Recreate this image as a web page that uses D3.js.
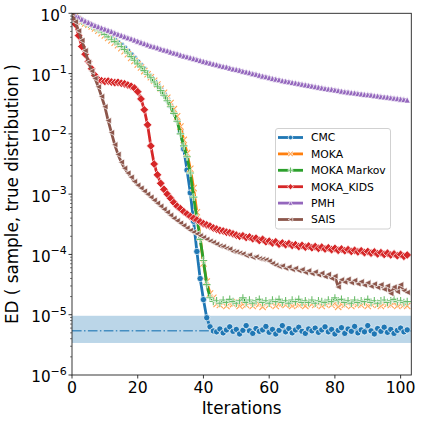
<!DOCTYPE html>
<html><head><meta charset="utf-8">
<script src="https://cdn.jsdelivr.net/npm/d3@7"></script>
<style>body{margin:0;background:#fff}svg{display:block}text{font-family:"DejaVu Sans",sans-serif;fill:#000}</style>
</head><body><svg id="c" width="423" height="423"></svg>
<script>
const iterations = d3.range(0, 103);
const seriesNames = ["CMC", "MOKA", "MOKA Markov", "MOKA_KIDS", "PMH", "SAIS"];
const cmc = [1.0,0.912,0.832,0.759,0.708,0.676,0.631,0.589,0.550,0.513,
0.468,0.427,0.389,0.355,0.324,0.295,0.263,0.234,0.204,0.178,
0.155,0.135,0.117,0.102,0.0891,0.0759,0.0646,0.0550,0.0457,0.0372,
0.0295,0.0229,0.0170,0.0112,0.00562,0.00251,0.00105,3.55e-4,1.12e-4,3.98e-5,
1.78e-5,8.91e-6,6.31e-6,5.37e-6,5.2e-6,5.8e-6,5.0e-6,5.6e-6,6.3e-6,5.3e-6,
5.7e-6,4.8e-6,5.5e-6,6.6e-6,5.4e-6,4.9e-6,5.9e-6,5.3e-6,5.6e-6,6.4e-6,
5.1e-6,5.7e-6,4.8e-6,5.5e-6,6.6e-6,5.2e-6,5.9e-6,5.0e-6,5.6e-6,6.2e-6,
5.3e-6,4.9e-6,5.8e-6,5.4e-6,6.0e-6,5.1e-6,5.6e-6,6.3e-6,5.2e-6,5.7e-6,
4.8e-6,5.5e-6,6.1e-6,4.9e-6,5.8e-6,5.3e-6,6.4e-6,5.0e-6,5.6e-6,5.2e-6,
6.6e-6,5.4e-6,4.8e-6,5.9e-6,5.3e-6,6.2e-6,5.1e-6,5.7e-6,4.9e-6,5.5e-6,
6.0e-6,5.2e-6,5.6e-6];
const moka = [1.0,0.891,0.794,0.724,0.676,0.646,0.603,0.562,0.513,0.468,
0.427,0.389,0.355,0.324,0.295,0.263,0.234,0.209,0.182,0.162,
0.141,0.126,0.110,0.0977,0.0871,0.0759,0.0661,0.0562,0.0479,0.0398,
0.0324,0.0257,0.0195,0.0132,0.00794,0.00479,0.00263,0.00126,5.01e-4,1.91e-4,
7.08e-5,3.55e-5,2.24e-5,1.91e-5,1.51e-5,1.45e-5,1.6e-5,1.4e-5,1.55e-5,1.5e-5,
1.65e-5,1.4e-5,1.5e-5,1.45e-5,1.6e-5,1.4e-5,1.55e-5,1.5e-5,1.35e-5,1.55e-5,
1.45e-5,1.6e-5,1.4e-5,1.5e-5,1.55e-5,1.45e-5,1.6e-5,1.4e-5,1.5e-5,1.45e-5,
1.55e-5,1.4e-5,1.6e-5,1.5e-5,1.45e-5,1.55e-5,1.4e-5,1.5e-5,1.6e-5,1.45e-5,
1.55e-5,1.35e-5,1.5e-5,1.45e-5,1.6e-5,1.4e-5,1.55e-5,1.5e-5,1.45e-5,1.6e-5,
1.4e-5,1.5e-5,1.55e-5,1.45e-5,1.4e-5,1.55e-5,1.5e-5,1.45e-5,1.6e-5,1.4e-5,
1.5e-5,1.45e-5,1.4e-5];
const mokaMarkov = [1.0,0.891,0.813,0.741,0.692,0.661,0.617,0.575,0.537,0.490,
0.447,0.407,0.372,0.339,0.309,0.282,0.251,0.219,0.191,0.166,
0.145,0.129,0.112,0.0977,0.0851,0.0724,0.0617,0.0525,0.0437,0.0355,
0.0282,0.0219,0.0162,0.0100,0.00631,0.00417,0.00224,8.91e-4,3.98e-4,1.78e-4,
7.94e-5,3.16e-5,1.91e-5,1.66e-5,1.7e-5,1.55e-5,1.75e-5,1.6e-5,1.8e-5,1.65e-5,
1.55e-5,1.7e-5,1.9e-5,1.6e-5,1.75e-5,1.55e-5,1.7e-5,1.8e-5,1.6e-5,1.7e-5,
1.55e-5,1.75e-5,1.65e-5,1.8e-5,1.6e-5,1.7e-5,1.55e-5,1.75e-5,1.65e-5,1.8e-5,
1.6e-5,1.7e-5,1.6e-5,1.75e-5,1.55e-5,1.7e-5,1.65e-5,1.6e-5,1.75e-5,1.65e-5,
1.9e-5,1.7e-5,1.8e-5,1.6e-5,1.7e-5,1.55e-5,1.75e-5,1.6e-5,1.7e-5,1.65e-5,
1.8e-5,1.6e-5,1.7e-5,1.55e-5,1.7e-5,1.75e-5,1.6e-5,1.7e-5,1.8e-5,1.65e-5,
1.7e-5,1.6e-5,1.65e-5];
const mokaKids = [1.0,0.661,0.427,0.282,0.209,0.158,0.120,0.0933,0.0794,0.0759,
0.0741,0.0750,0.0724,0.0708,0.0715,0.0692,0.0676,0.0646,0.0617,0.0575,
0.0501,0.0380,0.0251,0.0141,0.00631,0.00316,0.00209,0.00151,0.00120,0.00100,
8.51e-4,7.24e-4,6.31e-4,5.75e-4,5.13e-4,4.68e-4,4.27e-4,3.98e-4,3.72e-4,3.47e-4,
3.24e-4,3.09e-4,2.95e-4,2.75e-4,2.63e-4,2.51e-4,2.45e-4,2.34e-4,2.29e-4,2.19e-4,
2.09e-4,2.00e-4,2.04e-4,1.91e-4,1.95e-4,1.82e-4,1.86e-4,1.70e-4,1.78e-4,1.62e-4,
1.66e-4,1.55e-4,1.62e-4,1.48e-4,1.55e-4,1.45e-4,1.51e-4,1.41e-4,1.45e-4,1.35e-4,
1.41e-4,1.32e-4,1.38e-4,1.29e-4,1.35e-4,1.26e-4,1.32e-4,1.23e-4,1.29e-4,1.20e-4,
1.26e-4,1.17e-4,1.23e-4,1.15e-4,1.20e-4,1.12e-4,1.17e-4,1.10e-4,1.15e-4,1.07e-4,
1.12e-4,1.05e-4,1.10e-4,1.02e-4,1.07e-4,1.00e-4,1.05e-4,9.8e-5,1.02e-4,9.5e-5,
1.00e-4,9.3e-5,9.8e-5];
const pmh = [1.0,0.933,0.861,0.803,0.750,0.708,0.668,0.631,0.603,0.575,
0.550,0.525,0.501,0.473,0.452,0.432,0.412,0.394,0.380,0.363,
0.347,0.331,0.316,0.302,0.288,0.279,0.269,0.257,0.248,0.240,
0.229,0.221,0.214,0.204,0.197,0.191,0.184,0.178,0.172,0.166,
0.160,0.155,0.150,0.145,0.141,0.136,0.132,0.129,0.124,0.120,
0.117,0.114,0.110,0.107,0.104,0.100,0.0977,0.0944,0.0912,0.0891,
0.0861,0.0832,0.0813,0.0794,0.0767,0.0750,0.0733,0.0716,0.0700,0.0684,
0.0668,0.0653,0.0638,0.0624,0.0610,0.0596,0.0582,0.0569,0.0556,0.0550,
0.0537,0.0525,0.0513,0.0501,0.0495,0.0484,0.0479,0.0468,0.0462,0.0452,
0.0447,0.0442,0.0432,0.0427,0.0417,0.0412,0.0407,0.0398,0.0392,0.0386,
0.0379,0.0372,0.0366];
const sais = [1.0,0.724,0.513,0.355,0.240,0.155,0.110,0.0832,0.0603,0.0417,
0.0282,0.0166,0.0105,0.00661,0.00457,0.00339,0.00269,0.00224,0.00191,0.00162,
0.00141,0.00126,0.00112,0.00100,8.91e-4,7.94e-4,7.08e-4,6.31e-4,5.62e-4,5.01e-4,
4.47e-4,3.98e-4,3.63e-4,3.31e-4,3.02e-4,2.75e-4,2.51e-4,2.34e-4,2.19e-4,2.04e-4,
1.91e-4,1.78e-4,1.66e-4,1.58e-4,1.48e-4,1.38e-4,1.35e-4,1.26e-4,1.23e-4,1.12e-4,
1.10e-4,1.05e-4,1.02e-4,9.55e-5,9.8e-5,8.91e-5,9.12e-5,8.51e-5,8.32e-5,8.13e-5,
7.76e-5,7.08e-5,6.61e-5,6.31e-5,6.46e-5,5.89e-5,6.17e-5,5.62e-5,5.89e-5,5.37e-5,
5.62e-5,5.01e-5,5.37e-5,4.79e-5,5.13e-5,4.57e-5,4.90e-5,4.27e-5,4.68e-5,3.98e-5,
4.37e-5,2.88e-5,3.80e-5,3.47e-5,3.89e-5,3.39e-5,3.72e-5,3.24e-5,3.55e-5,3.09e-5,
3.39e-5,2.95e-5,3.24e-5,2.82e-5,3.16e-5,2.63e-5,3.02e-5,2.24e-5,2.88e-5,2.40e-5,
3.16e-5,2.51e-5,2.34e-5];
const cmcBand = [3.4e-6, 9.6e-6];
const cmcReference = 5.4e-6;
const xTicks = [0, 20, 40, 60, 80, 100];
const yTickExponents = [0, -1, -2, -3, -4, -5, -6];
const xDomain = [0, 103.25];
const yDomain = [1e-6, 1];

const seriesValues = [cmc, moka, mokaMarkov, mokaKids, pmh, sais];
const colors = ["#1f77b4", "#ff7f0e", "#2ca02c", "#d62728", "#9467bd", "#8c564b"];
const markers = ["circle", "x", "plus", "diamond", "triUp", "triLeft"];

const svg = d3.select("#c");
const L = 72, T = 13.3, R = 411.3, B = 375;
const x = d3.scaleLinear().domain(xDomain).range([L, R]);
const y = d3.scaleLog().domain(yDomain).range([B, T]);

svg.append("defs").append("clipPath").attr("id", "clip")
  .append("rect").attr("x", L).attr("y", T).attr("width", R - L).attr("height", B - T);

const plot = svg.append("g").attr("clip-path", "url(#clip)");
plot.append("rect")
  .attr("x", x(xDomain[0])).attr("width", x(xDomain[1]) - x(xDomain[0]))
  .attr("y", y(cmcBand[1])).attr("height", y(cmcBand[0]) - y(cmcBand[1]))
  .attr("fill", "#1f77b4").attr("fill-opacity", 0.3);
plot.append("line")
  .attr("x1", x(xDomain[0])).attr("x2", x(xDomain[1]))
  .attr("y1", y(cmcReference)).attr("y2", y(cmcReference))
  .attr("stroke", "#1f77b4").attr("stroke-opacity", 0.75).attr("stroke-width", 1.5)
  .attr("stroke-dasharray", "9.6,2.4,1.5,2.4");

function lighten(c, t) { return d3.interpolateRgb(c, "#fff")(t); }

function drawMarker(g, type, cx, cy, s, color) {
  const a = s / 2;
  if (type === "circle") {
    g.append("circle").attr("cx", cx).attr("cy", cy).attr("r", a)
      .attr("fill", color).attr("stroke", "#fff").attr("stroke-width", 0.7);
  } else if (type === "x" || type === "plus") {
    const d = type === "x"
      ? `M${cx - a},${cy - a}L${cx + a},${cy + a}M${cx - a},${cy + a}L${cx + a},${cy - a}`
      : `M${cx - a * 1.2},${cy}L${cx + a * 1.2},${cy}M${cx},${cy - a * 1.2}L${cx},${cy + a * 1.2}`;
    g.append("path").attr("d", d).attr("stroke", "#fff").attr("stroke-width", 2.2).attr("fill", "none");
    g.append("path").attr("d", d).attr("stroke", lighten(color, 0.3)).attr("stroke-width", 1.1).attr("fill", "none");
  } else {
    let pts;
    if (type === "diamond") pts = [[0, -a * 1.2], [a * 1.2, 0], [0, a * 1.2], [-a * 1.2, 0]];
    else if (type === "triUp") pts = [[0, -a], [a, a], [-a, a]];
    else pts = [[-a, 0], [a, -a], [a, a]];
    g.append("path").attr("d", "M" + pts.map(p => (cx + p[0]) + "," + (cy + p[1])).join("L") + "Z")
      .attr("fill", color).attr("stroke", "#fff").attr("stroke-width", 0.7);
  }
}

const line = d3.line().x((d, i) => x(iterations[i])).y(d => y(d));
seriesValues.forEach((vals, k) => {
  const g = plot.append("g");
  g.append("path").attr("d", line(vals)).attr("fill", "none")
    .attr("stroke", colors[k]).attr("stroke-width", 2.8).attr("stroke-linejoin", "round");
  const mg = g.append("g");
  const size = markers[k] === "diamond" ? 7.2 : 6.3;
  vals.forEach((v, i) => drawMarker(mg, markers[k], x(iterations[i]), y(v), size, colors[k]));
});

// axes frame
const ax = svg.append("g");
ax.append("rect").attr("x", L).attr("y", T).attr("width", R - L).attr("height", B - T)
  .attr("fill", "none").attr("stroke", "#222").attr("stroke-width", 0.9);

// x ticks
xTicks.forEach(t => {
  ax.append("line").attr("x1", x(t)).attr("x2", x(t)).attr("y1", B).attr("y2", B + 3.5)
    .attr("stroke", "#222").attr("stroke-width", 0.9);
  ax.append("text").attr("x", x(t)).attr("y", 393.3).attr("text-anchor", "middle")
    .attr("font-size", 15.7).text(t);
});
// y ticks
yTickExponents.forEach(e => {
  const yy = y(Math.pow(10, e));
  ax.append("line").attr("x1", L - 3.5).attr("x2", L).attr("y1", yy).attr("y2", yy)
    .attr("stroke", "#222").attr("stroke-width", 0.9);
  const t = ax.append("text").attr("x", 66.8).attr("y", yy + 7.4).attr("text-anchor", "end").attr("font-size", 15.2);
  t.append("tspan").text("10");
  t.append("tspan").attr("dy", -7.6).attr("font-size", 11).text(e < 0 ? "\u2212" + (-e) : String(e));
});
// y minor ticks
yTickExponents.slice(1).forEach(e => {
  [2, 3, 4, 5, 6, 7, 8, 9].forEach(m => {
    const yy = y(m * Math.pow(10, e));
    ax.append("line").attr("x1", L - 2).attr("x2", L).attr("y1", yy).attr("y2", yy)
      .attr("stroke", "#222").attr("stroke-width", 0.6);
  });
});

// axis labels
svg.append("text").attr("x", (L + R) / 2).attr("y", 414).attr("text-anchor", "middle")
  .attr("font-size", 16.8).text("Iterations");
svg.append("text").attr("transform", `translate(17.5,${(T + B) / 2}) rotate(-90)`)
  .attr("text-anchor", "middle").attr("font-size", 16.8).text("ED ( sample, true distribution )");

// legend
const lg = svg.append("g");
lg.append("rect").attr("x", 275.5).attr("y", 128.5).attr("width", 115).attr("height", 100.5)
  .attr("rx", 2.5).attr("fill", "#fff").attr("fill-opacity", 0.8).attr("stroke", "#ccc").attr("stroke-width", 0.9);
seriesNames.forEach((n, k) => {
  const yy = 137.5 + k * 16.4;
  lg.append("line").attr("x1", 278).attr("x2", 303).attr("y1", yy).attr("y2", yy)
    .attr("stroke", colors[k]).attr("stroke-width", 2.8);
  drawMarker(lg, markers[k], 290.5, yy, markers[k] === "diamond" ? 5 : 4.5, colors[k]);
  lg.append("text").attr("x", 311).attr("y", yy + 3.9).attr("font-size", 10.8).text(n);
});
</script></body></html>
